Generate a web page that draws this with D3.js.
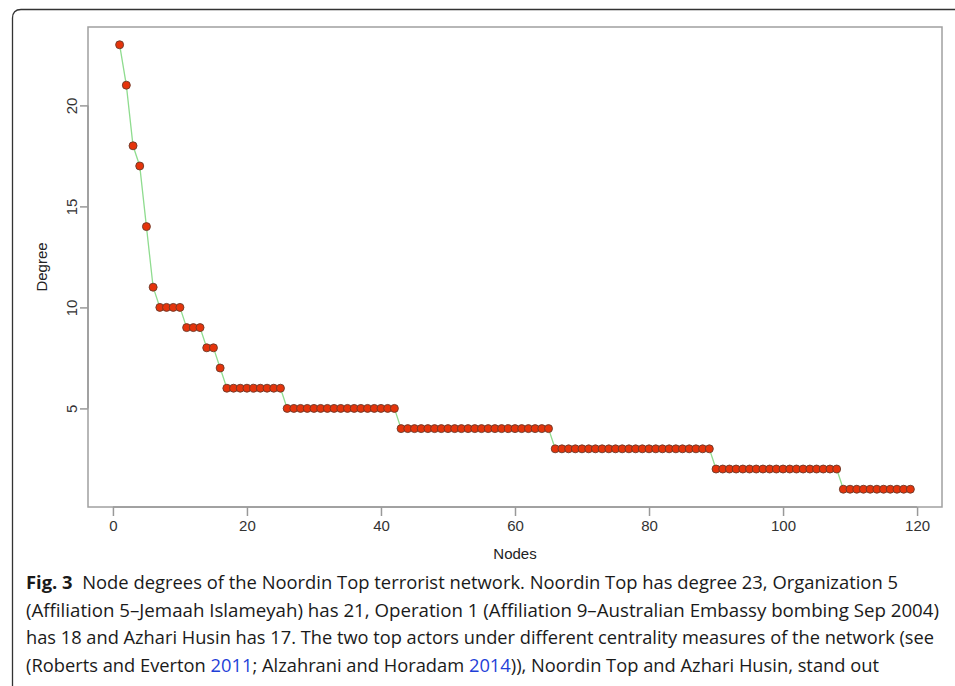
<!DOCTYPE html>
<html>
<head>
<meta charset="utf-8">
<script src="https://cdn.jsdelivr.net/npm/d3@7"></script>
<style>
  body { margin: 0; background: #fff; }
  .tick text { font-family: "Liberation Sans", Arial, sans-serif; font-size: 15px; fill: #333; }
  .label { font-family: "Liberation Sans", Arial, sans-serif; font-size: 15px; fill: #222; }
  .caption { font-family: "Open Sans", "Noto Sans", sans-serif; font-size: 18px; fill: #1a1a1a; }
</style>
</head>
<body>
<script>

/*
Degree levels, and how many nodes sit on each level (sorted descending)
*/
var degreeLevels = [23, 21, 18, 17, 14, 11, 10, 9, 8, 7, 6, 5, 4, 3, 2, 1];
var levelCounts  = [ 1,  1,  1,  1,  1,  1,  4, 3, 2, 1, 9, 17, 23, 24, 19, 11];

var xTicks = [0, 20, 40, 60, 80, 100, 120];
var yTicks = [5, 10, 15, 20];

// Build the per-node list from the levels
var degrees = [];
degreeLevels.forEach(function(d, i) {
	for (var k = 0; k < levelCounts[i]; k++) degrees.push(d);
});
var nodes = degrees.map(function(d, i) { return { node: i + 1, degree: d }; });

/*
Sizes
*/
var W = 955, H = 686;
var plot = { left: 88, right: 942, top: 27, bottom: 507 };

var svg = d3.select("body").append("svg")
	.attr("width", W)
	.attr("height", H);

// Outer figure frame (top and left edges with a rounded corner)
svg.append("path")
	.attr("d", "M955,9.5 L21,9.5 Q12.5,9.5 12.5,18 L12.5,686")
	.attr("fill", "none")
	.attr("stroke", "#333")
	.attr("stroke-width", 1.3);

/*
Scales - R style 4% padding
*/
var xScale = d3.scaleLinear()
	.domain([1 - 118 * 0.04, 119 + 118 * 0.04])
	.range([plot.left, plot.right]);

var yScale = d3.scaleLinear()
	.domain([1 - 22 * 0.04, 23 + 22 * 0.04])
	.range([plot.bottom, plot.top]);

/*
Axes
*/
var gX = svg.append("g")
	.attr("transform", "translate(0," + plot.bottom + ")")
	.call(d3.axisBottom(xScale).tickValues(xTicks).tickSize(9).tickPadding(4));

var gY = svg.append("g")
	.attr("transform", "translate(" + plot.left + ",0)")
	.call(d3.axisLeft(yScale).tickValues(yTicks).tickSize(8).tickPadding(4));

[gX, gY].forEach(function(g) {
	g.select(".domain").remove();
	g.selectAll(".tick line").attr("stroke", "#999").attr("stroke-width", 1.5);
});

// axis lines from first to last tick
svg.append("line")
	.attr("x1", xScale(0)).attr("x2", xScale(120))
	.attr("y1", plot.bottom).attr("y2", plot.bottom)
	.attr("stroke", "#888").attr("stroke-width", 1.5);
svg.append("line")
	.attr("x1", plot.left).attr("x2", plot.left)
	.attr("y1", yScale(5)).attr("y2", yScale(20))
	.attr("stroke", "#888").attr("stroke-width", 1.5);

// rotate y tick labels like R
gY.selectAll(".tick text")
	.attr("text-anchor", "middle")
	.attr("dy", null)
	.attr("x", null)
	.attr("transform", "translate(-11,0) rotate(-90)");

// Plot box
svg.append("rect")
	.attr("x", plot.left)
	.attr("y", plot.top)
	.attr("width", plot.right - plot.left)
	.attr("height", plot.bottom - plot.top)
	.attr("fill", "none")
	.attr("stroke", "#a0a0a0")
	.attr("stroke-width", 1.5);

// Axis titles
svg.append("text")
	.attr("class", "label")
	.attr("x", (plot.left + plot.right) / 2)
	.attr("y", 559)
	.attr("text-anchor", "middle")
	.text("Nodes");

svg.append("text")
	.attr("class", "label")
	.attr("transform", "translate(47," + ((plot.top + plot.bottom) / 2) + ") rotate(-90)")
	.attr("text-anchor", "middle")
	.text("Degree");

/*
Line and points
*/
var line = d3.line()
	.x(function(d) { return xScale(d.node); })
	.y(function(d) { return yScale(d.degree); });

svg.append("path")
	.datum(nodes)
	.attr("d", line)
	.attr("fill", "none")
	.attr("stroke", "#8fdc8f")
	.attr("stroke-width", 1.3);

svg.append("g").selectAll("circle")
	.data(nodes)
	.enter().append("circle")
	.attr("cx", function(d) { return xScale(d.node); })
	.attr("cy", function(d) { return yScale(d.degree); })
	.attr("r", 4)
	.attr("fill", "#e5340b")
	.attr("stroke", "#6a3a2a")
	.attr("stroke-width", 0.9);

/*
Caption
*/
var captionLines = [
	{ end: 898, parts: [["Fig. 3", "bold"], ["  Node degrees of the Noordin Top terrorist network. Noordin Top has degree 23, Organization 5"]] },
	{ end: 939, parts: [["(Affiliation 5\u2013Jemaah Islameyah) has 21, Operation 1 (Affiliation 9\u2013Australian Embassy bombing Sep 2004)"]] },
	{ end: 934, parts: [["has 18 and Azhari Husin has 17. The two top actors under different centrality measures of the network (see"]] },
	{ end: 879, parts: [["(Roberts and Everton "], ["2011", "link"], ["; Alzahrani and Horadam "], ["2014", "link"], [")), Noordin Top and Azhari Husin, stand out"]] }
];

var capX = 26, capY0 = 589, capStep = 27.7;

captionLines.forEach(function(l, i) {
	var t = svg.append("text")
		.attr("class", "caption")
		.attr("x", capX)
		.attr("y", capY0 + i * capStep)
		.attr("textLength", l.end - capX)
		.attr("lengthAdjust", "spacingAndGlyphs")
		.attr("xml:space", "preserve")
		.style("white-space", "pre");
	l.parts.forEach(function(p) {
		var s = t.append("tspan").text(p[0]);
		if (p[1] === "bold") s.attr("font-weight", "bold");
		if (p[1] === "link") s.attr("fill", "#1f3fd8");
	});
});

</script>
</body>
</html>
